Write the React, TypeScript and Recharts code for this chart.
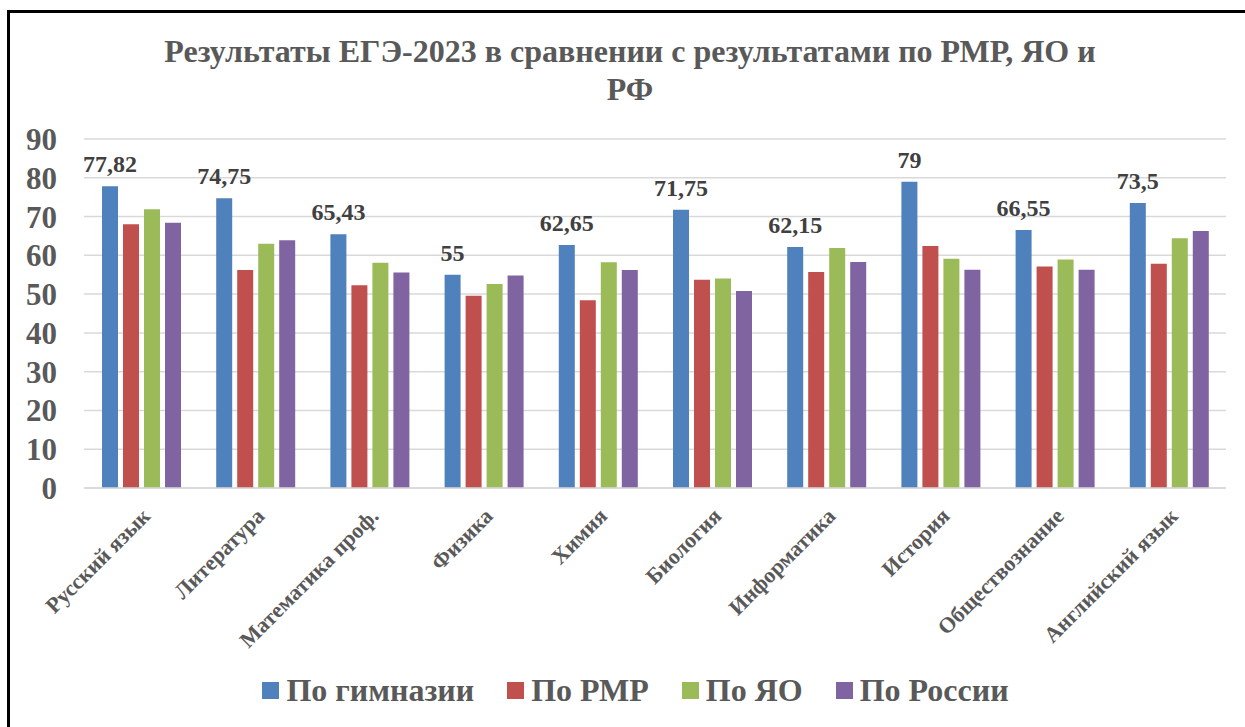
import { Bar, BarChart, CartesianGrid, LabelList, XAxis, YAxis } from 'recharts';

const subjects = [
  'Русский язык',
  'Литература',
  'Математика проф.',
  'Физика',
  'Химия',
  'Биология',
  'Информатика',
  'История',
  'Обществознание',
  'Английский язык'
];

const gymnasium = [77.82, 74.75, 65.43, 55, 62.65, 71.75, 62.15, 79, 66.55, 73.5];
const district = [68.0, 56.2, 52.3, 49.6, 48.4, 53.7, 55.7, 62.4, 57.1, 57.8];
const region = [71.9, 63.0, 58.1, 52.6, 58.2, 54.0, 61.9, 59.1, 58.9, 64.4];
const russia = [68.4, 63.9, 55.6, 54.8, 56.2, 50.8, 58.3, 56.3, 56.3, 66.3];

const yTicks = [0, 10, 20, 30, 40, 50, 60, 70, 80, 90];

const SERIES = [
  { key: 'gym', name: 'По гимназии', color: '#4f81bd' },
  { key: 'rmr', name: 'По РМР', color: '#c0504d' },
  { key: 'yao', name: 'По ЯО', color: '#9bbb59' },
  { key: 'rf', name: 'По России', color: '#8064a2' }
];

const data = subjects.map((name, i) => ({
  name,
  gym: gymnasium[i],
  rmr: district[i],
  yao: region[i],
  rf: russia[i]
}));

const FONT = "'Liberation Serif', Tinos, 'DejaVu Serif', serif";
const TEXT = '#595959';

const fmt = (v: unknown) => String(v).replace('.', ',');

function SubjectTick(props: any) {
  const { x, y, payload } = props;
  return (
    <g transform={`translate(${x + 5},${y + 16}) rotate(-45)`}>
      <text textAnchor="end" dy="0.35em" fill={TEXT} style={{ fontFamily: FONT }} fontWeight="bold" fontSize={22}>
        {payload.value}
      </text>
    </g>
  );
}

export default function App() {
  return (
    <div style={{ position: 'relative', width: 1245, height: 727, overflow: 'hidden', background: '#fff', fontFamily: FONT }}>
      <style>{'body{margin:0}'}</style>
      <div
        style={{
          position: 'absolute',
          left: 7,
          top: 10,
          width: 1300,
          height: 800,
          border: '3px solid #000',
          boxSizing: 'border-box'
        }}
      />
      <div
        style={{
          position: 'absolute',
          left: 0,
          top: 32,
          width: 1260,
          textAlign: 'center',
          fontWeight: 'bold',
          fontSize: 32,
          lineHeight: '38px',
          color: TEXT
        }}
      >
        Результаты ЕГЭ-2023 в сравнении с результатами по РМР, ЯО и
        <br />
        РФ
      </div>
      <div style={{ position: 'absolute', left: 0, top: 0 }}>
        <BarChart
          width={1245}
          height={727}
          data={data}
          margin={{ top: 139, right: 19, left: 0, bottom: 0 }}
          barSize={16}
          barGap={5}
          style={{ fontFamily: FONT }}
        >
          <CartesianGrid vertical={false} stroke="#d9d9d9" strokeWidth={1.5} />
          <XAxis
            dataKey="name"
            height={239}
            interval={0}
            tickLine={false}
            axisLine={{ stroke: '#d9d9d9', strokeWidth: 1.5 }}
            tick={<SubjectTick />}
          />
          <YAxis
            width={84}
            domain={[0, 90]}
            ticks={yTicks}
            interval={0}
            axisLine={false}
            tickLine={false}
            tickSize={0}
            tickMargin={27}
            tick={{ fill: TEXT, fontWeight: 'bold', fontSize: 31, style: { fontFamily: FONT } }}
          />
          {SERIES.map((s) => (
            <Bar key={s.key} dataKey={s.key} name={s.name} fill={s.color} isAnimationActive={false}>
              {s.key === 'gym' && (
                <LabelList
                  dataKey="gym"
                  position="top"
                  offset={14}
                  formatter={fmt}
                  fill="#404040"
                  fontWeight="bold"
                  fontSize={24}
                  style={{ fontFamily: FONT }}
                />
              )}
            </Bar>
          ))}
        </BarChart>
      </div>
      <div
        style={{
          position: 'absolute',
          left: 0,
          top: 668,
          width: 1245,
          display: 'flex',
          justifyContent: 'center',
          gap: 33,
          fontWeight: 'bold',
          fontSize: 32,
          lineHeight: '44px',
          color: TEXT,
          paddingLeft: 26,
          boxSizing: 'border-box'
        }}
      >
        {SERIES.map((s) => (
          <div key={s.key} style={{ display: 'flex', alignItems: 'center' }}>
            <span style={{ width: 17, height: 17, background: s.color, marginRight: 7, display: 'inline-block' }} />
            <span>{s.name}</span>
          </div>
        ))}
      </div>
    </div>
  );
}
